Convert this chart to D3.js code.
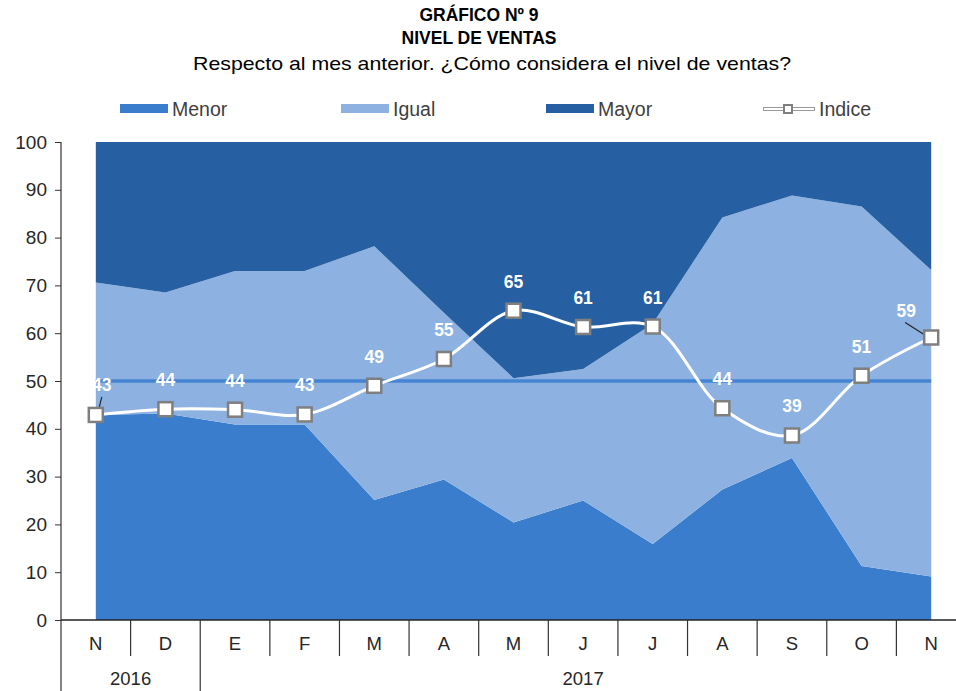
<!DOCTYPE html>
<html><head><meta charset="utf-8">
<script src="https://cdn.jsdelivr.net/npm/d3@7"></script>
<style>body{margin:0;background:#fff;}svg{display:block;font-family:"Liberation Sans",Arial,sans-serif;}</style>
</head><body><svg id="c" width="956" height="691"></svg>
<script>
const months = ["N","D","E","F","M","A","M","J","J","A","S","O","N"];
const years = [{label:"2016", from:0, to:2},{label:"2017", from:2, to:13}];
const menor = [42.9,43.2,40.9,40.9,25.1,29.4,20.4,25.0,15.9,27.3,33.9,11.3,9.1];
const igual = [27.7,25.3,32.1,32.1,53.1,34.9,30.2,27.5,46.1,56.9,54.9,75.2,64.1];
const mayor = [29.4,31.5,27.0,27.0,21.8,35.7,49.4,47.5,38.0,15.8,11.2,13.5,26.8];
const indice = [42.9,44.1,44.0,43.0,49.0,54.6,64.7,61.3,61.4,44.3,38.6,51.1,59.1];
const reference = 50;
const yTicks = [0,10,20,30,40,50,60,70,80,90,100];
const seriesNames = ["Menor","Igual","Mayor"];
const colors = {Menor:"#3a7dcc", Igual:"#8db2e1", Mayor:"#2660a2"};

(function(){
const svg = d3.select("#c");
const pLeft = 61, pBottom = 620, pTop = 142, pRight = 966;
const x = d3.scaleBand().domain(d3.range(months.length)).range([pLeft, pRight]).paddingInner(0);
const cx = i => x(i) + x.bandwidth()/2;
const bx = i => i < months.length ? x(i) : pRight;
const y = d3.scaleLinear().domain([0,100]).range([pBottom, pTop]);

// stacked areas
const rows = months.map((m,i)=>({i, Menor:menor[i], Igual:igual[i], Mayor:mayor[i]}));
const stack = d3.stack().keys(seriesNames)(rows);
const area = d3.area().x(d=>cx(d.data.i)).y0(d=>y(d[0])).y1(d=>y(d[1]));
svg.append("g").selectAll("path").data(stack).join("path")
  .attr("d", area).attr("fill", d=>colors[d.key]);

// reference line at 50
svg.append("line").attr("x1", cx(0)).attr("x2", cx(months.length-1))
  .attr("y1", y(reference)).attr("y2", y(reference))
  .attr("stroke", "#4584d2").attr("stroke-width", 3.5);

// y axis
const yAxis = svg.append("g").attr("transform", `translate(${pLeft},0)`)
  .call(d3.axisLeft(y).tickValues(yTicks).tickSize(6).tickSizeOuter(0).tickPadding(8));
yAxis.select(".domain").remove();
yAxis.selectAll(".tick line").attr("stroke","#333");
yAxis.selectAll(".tick text").attr("font-size", 19).attr("fill","#262626")
  .attr("font-family",'"Liberation Sans",Arial,sans-serif');
svg.append("line").attr("x1",pLeft).attr("x2",pLeft).attr("y1",pTop).attr("y2",691).attr("stroke","#333").attr("stroke-width",1.2);

// x axis
svg.append("line").attr("x1",pLeft).attr("x2",956).attr("y1",pBottom).attr("y2",pBottom).attr("stroke","#222").attr("stroke-width",1.5);
const xg = svg.append("g");
d3.range(1, months.length+1).forEach(i=>{
  const isYear = years.some(yr=>yr.from===i);
  xg.append("line").attr("x1",bx(i)).attr("x2",bx(i))
    .attr("y1",pBottom).attr("y2", isYear?691:656).attr("stroke","#333").attr("stroke-width",1.2);
});
xg.selectAll("text.m").data(months).join("text").attr("class","m")
  .attr("x",(d,i)=>cx(i)).attr("y",650).attr("text-anchor","middle")
  .attr("font-size",18.5).attr("fill","#262626").text(d=>d);
xg.selectAll("text.yr").data(years).join("text").attr("class","yr")
  .attr("x",d=>(bx(d.from) + bx(d.to))/2).attr("y",685)
  .attr("text-anchor","middle").attr("font-size",18.5).attr("fill","#262626").text(d=>d.label);

// index line
const line = d3.line().x((d,i)=>cx(i)).y(d=>y(d)).curve(d3.curveCatmullRom.alpha(0.5));
svg.append("path").attr("d", line(indice)).attr("fill","none").attr("stroke","#fff").attr("stroke-width",3);

// leader lines for displaced labels
const labelShift = {0:[6,-1], 12:[-25,2]};
svg.append("line").attr("x1", cx(0)+6).attr("y1", y(indice[0])-18)
  .attr("x2", cx(0)+2).attr("y2", y(indice[0])-2).attr("stroke","#222").attr("stroke-width",1.2);
svg.append("line").attr("x1", cx(12)-26).attr("y1", y(indice[12])-15)
  .attr("x2", cx(12)-4).attr("y2", y(indice[12])-1).attr("stroke","#222").attr("stroke-width",1.2);

// markers
svg.append("g").selectAll("rect").data(indice).join("rect")
  .attr("x",(d,i)=>cx(i)-7).attr("y",d=>y(d)-7).attr("width",14).attr("height",14)
  .attr("fill","#fff").attr("stroke","#7f7f7f").attr("stroke-width",2.5);

// data labels
svg.append("g").selectAll("text").data(indice).join("text")
  .attr("x",(d,i)=>cx(i)+(labelShift[i]?labelShift[i][0]:0))
  .attr("y",(d,i)=>y(d)-23+(labelShift[i]?labelShift[i][1]:0))
  .attr("text-anchor","middle").attr("font-size",17.5).attr("font-weight","bold")
  .attr("fill","#fff").text(d=>d3.format(".0f")(d));

// titles
const t = svg.append("g").attr("text-anchor","middle").attr("fill","#000");
t.append("text").attr("x",479).attr("y",21).attr("font-size",17.5).attr("font-weight","bold").text("GRÁFICO Nº 9");
t.append("text").attr("x",479).attr("y",44).attr("font-size",17.5).attr("font-weight","bold").text("NIVEL DE VENTAS");
t.append("text").attr("x",492).attr("y",70).attr("font-size",19)
  .attr("textLength",598).attr("lengthAdjust","spacingAndGlyphs").text("Respecto al mes anterior. ¿Cómo considera el nivel de ventas?");

// legend
const leg = svg.append("g");
const legItems = [{k:"Menor",x:120},{k:"Igual",x:341},{k:"Mayor",x:546}];
legItems.forEach(it=>{
  leg.append("rect").attr("x",it.x).attr("y",104).attr("width",48).attr("height",9).attr("fill",colors[it.k]);
  leg.append("text").attr("x",it.x+52).attr("y",116).attr("font-size",19.5).attr("fill","#404040").text(it.k);
});
leg.append("line").attr("x1",763).attr("x2",815).attr("y1",109).attr("y2",109).attr("stroke","#9a9a9a").attr("stroke-width",4);
leg.append("line").attr("x1",764).attr("x2",814).attr("y1",109).attr("y2",109).attr("stroke","#fff").attr("stroke-width",2);
leg.append("rect").attr("x",784).attr("y",105).attr("width",8).attr("height",8).attr("fill","#fff").attr("stroke","#7f7f7f").attr("stroke-width",2);
leg.append("text").attr("x",819).attr("y",116).attr("font-size",19.5).attr("fill","#404040").text("Indice");
})();
</script></body></html>
